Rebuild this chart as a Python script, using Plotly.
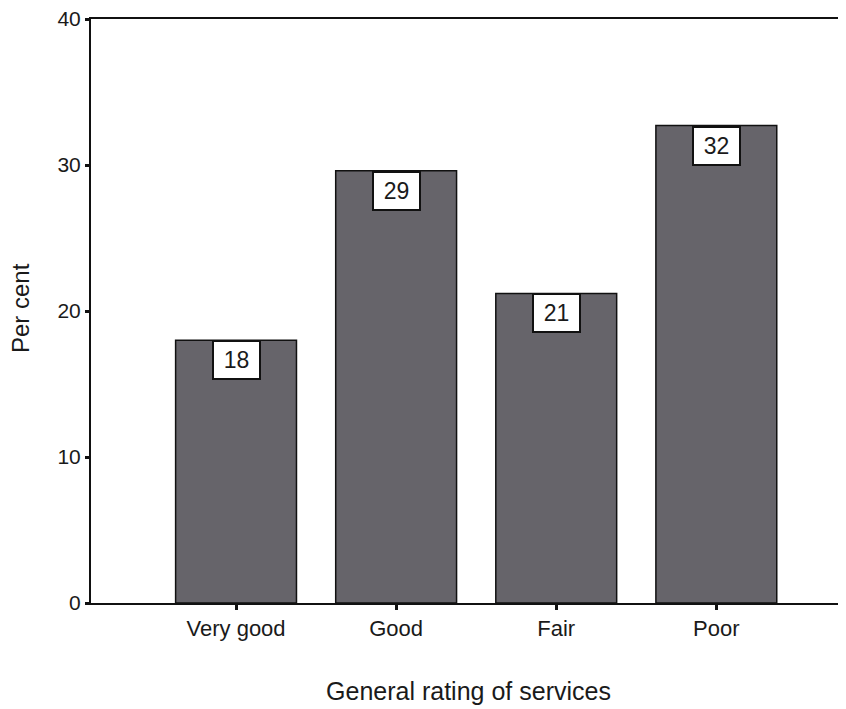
import plotly.graph_objects as go

categories = ["Very good", "Good", "Fair", "Poor"]
values = [18.0, 29.6, 21.2, 32.7]
labels = ["18", "29", "21", "32"]
y_ticks = [0, 10, 20, 30, 40]

font_family = "Liberation Sans, Arial, sans-serif"

fig = go.Figure()
fig.add_trace(go.Bar(
    x=list(range(len(categories))),
    y=values,
    width=0.755,
    marker=dict(color="#66646a", line=dict(color="#111111", width=1.5)),
    hoverinfo="skip",
))

for i, (v, t) in enumerate(zip(values, labels)):
    fig.add_annotation(
        x=i, y=v, xref="x", yref="y",
        text=t, showarrow=False,
        yanchor="top", xanchor="center",
        font=dict(family=font_family, size=23, color="#1a1a1a"),
        bgcolor="white", bordercolor="#111111", borderwidth=2, borderpad=2,
        width=41, height=32,
    )

# y-axis title placed as a rotated annotation
fig.add_annotation(
    x=0, y=0.505, xref="paper", yref="paper",
    xshift=-71, text="Per cent", textangle=-90, showarrow=False,
    xanchor="center", yanchor="middle",
    font=dict(family=font_family, size=24, color="#1a1a1a"),
)

fig.update_layout(
    width=838, height=701,
    margin=dict(l=83, r=0, t=11, b=106),
    paper_bgcolor="white", plot_bgcolor="white",
    showlegend=False,
    font=dict(family=font_family, size=21, color="#1a1a1a"),
    xaxis=dict(
        range=[-0.906, 3.81],
        tickmode="array",
        tickvals=list(range(len(categories))),
        ticktext=categories,
        showline=True, linecolor="#111111", linewidth=2, mirror=True,
        ticks="outside", ticklen=5, tickwidth=3, tickcolor="#111111",
        showgrid=False, zeroline=False,
        tickfont=dict(size=22),
        title=dict(text="General rating of services", font=dict(size=25), standoff=42),
    ),
    yaxis=dict(
        range=[0, 40],
        tickmode="array",
        tickvals=y_ticks,
        ticktext=[str(v) for v in y_ticks],
        showline=True, linecolor="#111111", linewidth=2,
        ticks="outside", ticklen=4, tickwidth=3, tickcolor="#111111",
        showgrid=False, zeroline=False,
        tickfont=dict(size=21),
        ticklabeloverflow="allow",
    ),
)

fig.write_html("out.html")
